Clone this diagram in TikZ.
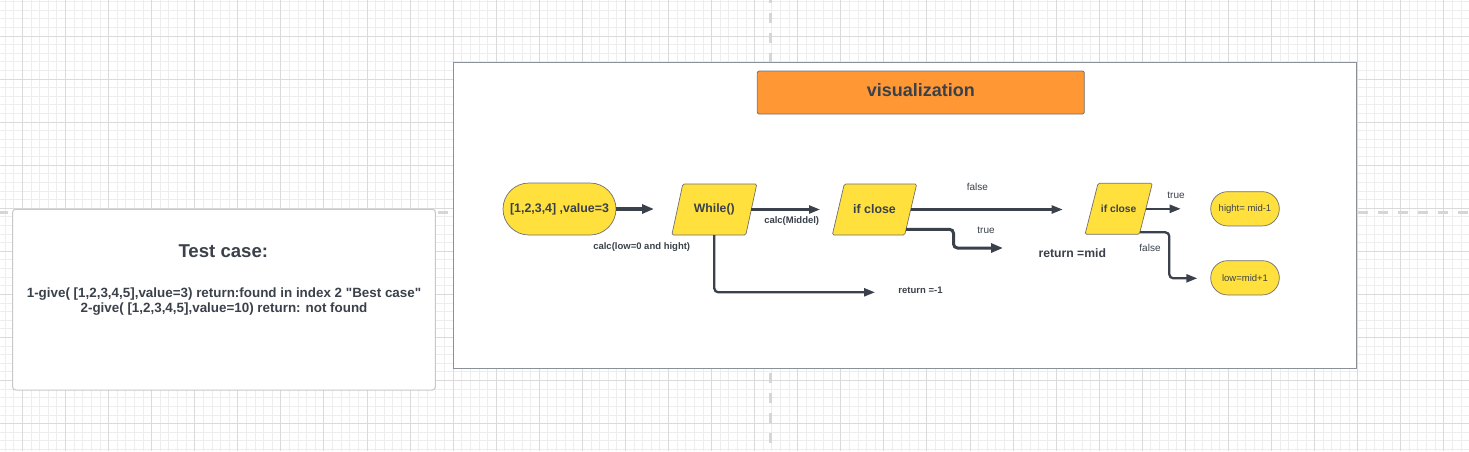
\documentclass[tikz,border=0pt]{standalone}
\usepackage{fontspec}
\setmainfont{Liberation Sans}
\usetikzlibrary{arrows.meta,calc}
\definecolor{txt}{HTML}{3A414A}
\definecolor{ylw}{HTML}{FFE03D}
\definecolor{org}{HTML}{FE9734}
\definecolor{gmin}{HTML}{EDEDED}
\definecolor{gmaj}{HTML}{DADADA}
\definecolor{gdash}{HTML}{D6D6D6}
\definecolor{shapeb}{HTML}{707070}
\definecolor{frameb}{HTML}{8C9099}
\definecolor{boxb}{HTML}{C8C8C8}
\pgfdeclarelayer{gridlayer}
\pgfdeclarelayer{shapelayer}
\pgfsetlayers{gridlayer,shapelayer,main}
\begin{document}
\begin{tikzpicture}[x=1pt,y=-1pt,
  fs/.style={font=\fontsize{#1}{#1}\selectfont},
  bfs/.style={font=\fontsize{#1}{#1}\selectfont\bfseries},
  stadium/.style={draw=shapeb, line width=0.7pt, fill=ylw, rounded corners=#1,
    inner sep=0pt, outer sep=0pt, text=txt},
  parabody/.style={rectangle, inner sep=0pt, outer sep=0pt, text=txt, minimum height=51pt},
  pshape/.style={draw=shapeb, line width=0.7pt, fill=ylw, rounded corners=1.5pt},
  lbl/.style={text=txt, inner sep=0pt},
  conn/.style={draw=txt, line width=#1, rounded corners=4pt,
    -{Triangle[length=12pt,width=9pt]}},
  tconn/.style={draw=txt, line width=#1, rounded corners=4pt,
    -{Triangle[length=11pt,width=8pt]}}
]
\useasboundingbox (0,0) rectangle (1469,451);
\begin{pgfonlayer}{gridlayer}
\begin{scope}
\clip (0,0) rectangle (1469,451);
\fill[white] (0,0) rectangle (1469,451);
% minor grid
\foreach \i in {0,...,170} {\draw[gmin, line width=1pt] ({5.27+\i*8.614},0) -- ({5.27+\i*8.614},451);}
\foreach \j in {0,...,52} {\draw[gmin, line width=1pt] (0,{1.54+\j*8.614}) -- (1469,{1.54+\j*8.614});}
% major grid
\foreach \i in {0,...,34} {\draw[gmaj, line width=1pt] ({22.5+\i*43.07},0) -- ({22.5+\i*43.07},451);}
\foreach \j in {0,...,11} {\draw[gmaj, line width=1pt] (0,{-7.07+\j*43.07}) -- (1469,{-7.07+\j*43.07});}
% origin dashed lines
\draw[gdash, line width=3.5pt, dash pattern=on 10pt off 10pt, dash phase=7.3pt] (770.3,0) -- (770.3,451);
\draw[gdash, line width=3.5pt, dash pattern=on 10pt off 10pt, dash phase=2.3pt] (0,212.3) -- (1469,212.3);
\end{scope}
% containers
\node[draw=frameb, fill=white, line width=1pt, inner sep=0pt, outer sep=0pt,
  minimum width=903.5pt, minimum height=306.3pt] (frame) at (904.75,215.15) {};
\node[draw=boxb, fill=white, line width=1pt, rounded corners=3pt, inner sep=0pt, outer sep=0pt,
  minimum width=422.6pt, minimum height=180.7pt] (testbox) at (224,299.65) {};
\end{pgfonlayer}

% test case text
\node[lbl, bfs=18.6] (tctitle) at (223.3,251) {Test case:};
\node[lbl, bfs=13.4] (tc1) at (224,294.3) {1-give( [1,2,3,4,5],value=3) return:found in index 2 \textquotedbl Best case\textquotedbl};
\node[lbl, bfs=13.4] (tc2) at (224,309.5) {2-give( [1,2,3,4,5],value=10) return: not found};

% title
\node[draw=shapeb, fill=org, line width=0.8pt, rounded corners=2pt, inner sep=0pt, outer sep=0pt,
  minimum width=327pt, minimum height=43pt, text=txt, bfs=18, text height=13pt, text depth=5pt] (viz) at (920.8,92.5) {visualization};

% flow nodes
\node[stadium=26pt, minimum width=113pt, minimum height=52pt, bfs=12.4] (start) at (559.5,209) {[1,2,3,4] ,value=3};
\node[parabody, minimum width=74pt, bfs=12.2] (while) at (714.3,209.5) {While()};
\node[parabody, minimum width=72.4pt, bfs=12.4] (ifa) at (874.5,209.5) {if close};
\node[parabody, minimum width=54.3pt, bfs=10.3] (ifb) at (1118.7,208.8) {if close};
\node[stadium=17pt, minimum width=68.6pt, minimum height=34.3pt, fs=9.5] (hi) at (1245,208.8) {hight= mid-1};
\node[stadium=17pt, minimum width=68.6pt, minimum height=34.3pt, fs=9.5] (lo) at (1245,277.8) {low=mid+1};

% parallelogram outlines
\begin{pgfonlayer}{shapelayer}
\filldraw[pshape] ([xshift=-5.5pt]while.south west) -- ([xshift=5.5pt]while.north west)
  -- ([xshift=5.5pt]while.north east) -- ([xshift=-5.5pt]while.south east) -- cycle;
\filldraw[pshape] ([xshift=-6pt]ifa.south west) -- ([xshift=6pt]ifa.north west)
  -- ([xshift=6pt]ifa.north east) -- ([xshift=-6pt]ifa.south east) -- cycle;
\filldraw[pshape] ([xshift=-6.5pt]ifb.south west) -- ([xshift=6.5pt]ifb.north west)
  -- ([xshift=6.5pt]ifb.north east) -- ([xshift=-6.5pt]ifb.south east) -- cycle;
\end{pgfonlayer}

% free ends
\coordinate (e1) at (654,209);
\coordinate (e2) at (820,209.5);
\coordinate (e3) at (875,292.3);
\coordinate (e4) at (1062.7,209.5);
\coordinate (e5) at (1003,248);
\coordinate (e6) at (1180.7,208.8);
\coordinate (e7) at (1197.3,278.3);

% connectors
\draw[conn=4.2pt] (start.east) -- (e1);
\draw[tconn=2.3pt] (while.east) -- (e2);
\draw[tconn=2.3pt] (while.south) |- (e3);
\draw[tconn=2.3pt] (ifa.east) -- (e4);
\draw[conn=3pt] ($(ifa.south east)+(-4.7,-5.7)$) -| ([xshift=-49.5pt]e5) -- (e5);
\draw[tconn=2.3pt] (ifb.east) -- (e6);
\draw[tconn=2.3pt] ($(ifb.south east)+(-6,-2)$) -| ([xshift=-28pt]e7) -- (e7);

% labels
\node[lbl, bfs=9.5] (l1) at (641.7,247.3) {calc(low=0 and hight)};
\node[lbl, bfs=9.5] (l2) at (791.7,221) {calc(Middel)};
\node[lbl, bfs=9.5] (l3) at (920.5,290) {return =-1};
\node[lbl, fs=10] (l4) at (977.3,186.7) {false};
\node[lbl, fs=10] (l5) at (986,230) {true};
\node[lbl, bfs=12.2] (l6) at (1072.3,253.3) {return =mid};
\node[lbl, fs=10] (l7) at (1176,195) {true};
\node[lbl, fs=10] (l8) at (1150,247.7) {false};
\end{tikzpicture}
\end{document}
